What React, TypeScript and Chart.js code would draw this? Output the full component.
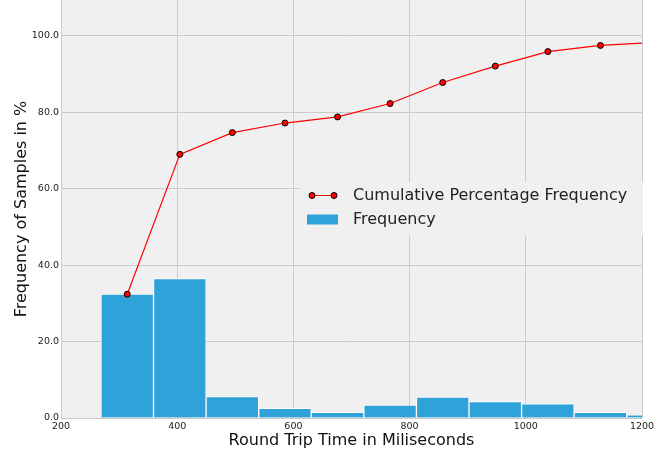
import React, { useEffect, useRef } from "react";
import { Chart, registerables } from "chart.js";

Chart.register(...registerables);

const binCenters = [314, 404.5, 495, 585.5, 676, 766.5, 857, 947.5, 1038, 1128.5, 1219];
const frequency = [32.4, 36.5, 5.6, 2.5, 1.5, 3.4, 5.5, 4.3, 3.7, 1.5, 0.8];
const cumulative = [32.4, 69.0, 74.7, 77.2, 78.8, 82.3, 87.8, 92.1, 95.9, 97.5, 98.3];
const xTicks = [200, 400, 600, 800, 1000, 1200];
const yTicks = [0, 20, 40, 60, 80, 100];

const FONT = "'DejaVu Sans', sans-serif";

const legendPlugin = {
  id: "customLegend",
  afterDatasetsDraw(chart: any) {
    const { ctx, chartArea } = chart;
    const cy = (chartArea.top + chartArea.bottom) / 2;
    const right = chartArea.right + 1;
    const left = 300;
    ctx.save();
    ctx.fillStyle = "#f0f0f0";
    ctx.fillRect(left, cy - 27, right - left, 53);
    // line sample
    const ly = cy - 13.5;
    ctx.strokeStyle = "#ff0000";
    ctx.lineWidth = 1;
    ctx.beginPath();
    ctx.moveTo(312, ly);
    ctx.lineTo(334, ly);
    ctx.stroke();
    [312, 334].forEach((px) => {
      ctx.beginPath();
      ctx.arc(px, ly, 3, 0, Math.PI * 2);
      ctx.fillStyle = "#ff0000";
      ctx.fill();
      ctx.strokeStyle = "#000";
      ctx.stroke();
    });
    // bar sample
    const by = cy + 10.5;
    ctx.fillStyle = "#30a2da";
    ctx.fillRect(307, by - 5, 31, 10);
    ctx.fillStyle = "#222";
    ctx.font = "16px " + FONT;
    ctx.textBaseline = "middle";
    ctx.textAlign = "left";
    ctx.fillText(chart.data.datasets[1].label, 353, ly);
    ctx.fillText(chart.data.datasets[0].label, 353, by);
    ctx.restore();
  },
};

export default function App() {
  const ref = useRef<HTMLCanvasElement | null>(null);
  useEffect(() => {
    if (!ref.current) return;
    const chart = new Chart(ref.current, {
      type: "bar",
      data: {
        datasets: [
          {
            type: "bar",
            label: "Frequency",
            data: binCenters.map((x, i) => ({ x, y: frequency[i] })),
            backgroundColor: "#30a2da",
            borderColor: "rgba(255,255,255,0.85)",
            borderWidth: 1,
            barPercentage: 1,
            categoryPercentage: 1,
            order: 2,
          } as any,
          {
            type: "line",
            label: "Cumulative Percentage Frequency",
            data: binCenters.map((x, i) => ({ x, y: cumulative[i] })),
            borderColor: "#ff0000",
            borderWidth: 1.2,
            pointRadius: 3,
            pointBackgroundColor: "#ff0000",
            pointBorderColor: "#000",
            pointBorderWidth: 1,
            tension: 0,
            order: 1,
          } as any,
        ],
      },
      options: {
        animation: false,
        responsive: false,
        devicePixelRatio: 1,
        layout: { autoPadding: false, padding: { left: 0, right: 29, top: 0, bottom: 0 } },
        plugins: { legend: { display: false }, tooltip: { enabled: false } },
        scales: {
          x: {
            type: "linear",
            min: 200,
            max: 1200,
            offset: false,
            afterBuildTicks: (s: any) => {
              s.ticks = xTicks.map((v) => ({ value: v }));
            },
            afterFit: (s: any) => {
              s.height = 36;
              s.paddingLeft = 0;
              s.paddingRight = 0;
              s.paddingTop = 0;
              s.paddingBottom = 0;
            },
            grid: { color: "#cbcbcb", lineWidth: 1, drawTicks: false, offset: false },
            border: { display: false },
            ticks: {
              autoSkip: false,
              maxRotation: 0,
              padding: 3,
              color: "#222",
              font: { family: FONT, size: 9.5 },
              callback: (v: any) => String(v),
            },
            title: {
              display: true,
              text: "Round Trip Time in Miliseconds",
              color: "#111",
              font: { family: FONT, size: 16 },
              padding: { top: 0, bottom: 4 },
            },
          },
          y: {
            type: "linear",
            min: 0,
            max: 109.4,
            afterBuildTicks: (s: any) => {
              s.ticks = yTicks.map((v) => ({ value: v }));
            },
            afterFit: (s: any) => {
              s.width = 61;
              s.paddingLeft = 0;
              s.paddingRight = 0;
              s.paddingTop = 0;
              s.paddingBottom = 0;
            },
            grid: { color: "#cbcbcb", lineWidth: 1, drawTicks: false },
            border: { display: false },
            ticks: {
              padding: 2,
              color: "#222",
              font: { family: FONT, size: 9.5 },
              callback: (v: any) => Number(v).toFixed(1),
            },
            title: {
              display: true,
              text: "Frequency of Samples in %",
              color: "#111",
              font: { family: FONT, size: 16 },
              padding: { top: 12, bottom: 0 },
            },
          },
        },
      },
      plugins: [
        {
          id: "bg",
          beforeDraw(chart: any) {
            const { ctx, chartArea } = chart;
            ctx.save();
            ctx.fillStyle = "#f0f0f0";
            ctx.fillRect(chartArea.left, chartArea.top, chartArea.right - chartArea.left + 1, chartArea.bottom - chartArea.top);
            ctx.restore();
          },
        },
        legendPlugin,
      ],
    });
    return () => chart.destroy();
  }, []);
  return (
    <div style={{ position: "absolute", left: 0, top: 0, width: 671, height: 454, background: "#fff" }}>
      <canvas ref={ref} width={671} height={454} style={{ display: "block" }} />
    </div>
  );
}
